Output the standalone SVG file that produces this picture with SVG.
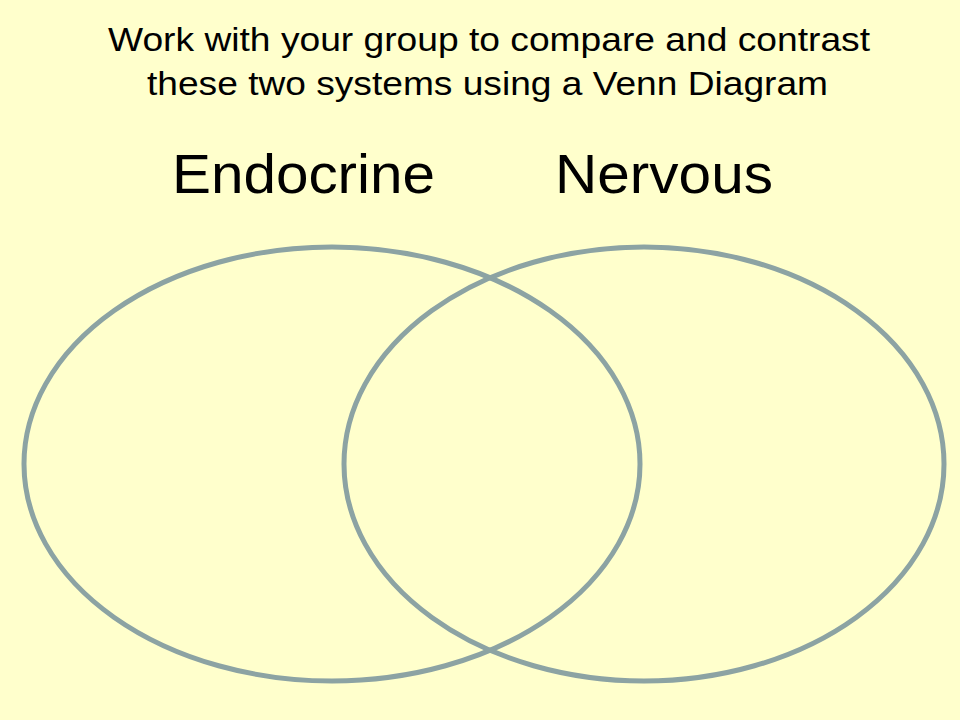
<svg xmlns="http://www.w3.org/2000/svg" width="960" height="720" viewBox="0 0 960 720">
<style>
.t{font-family:"Liberation Sans",Arial,sans-serif;fill:#000}
.c{fill:none;stroke:#8CA3A3;stroke-width:5}
</style>
<rect width="960" height="720" fill="#FFFFCC"/>
<text class="t" x="108" y="51" font-size="33" textLength="762" lengthAdjust="spacingAndGlyphs">Work with your group to compare and contrast</text>
<text class="t" x="147" y="95" font-size="33" textLength="681" lengthAdjust="spacingAndGlyphs">these two systems using a Venn Diagram</text>
<text class="t" x="172" y="193" font-size="56" textLength="263" lengthAdjust="spacingAndGlyphs">Endocrine</text>
<text class="t" x="555" y="193" font-size="56" textLength="218" lengthAdjust="spacingAndGlyphs">Nervous</text>
<g id="endocrine"><ellipse class="c" cx="332" cy="464" rx="308" ry="217"/></g>
<g id="nervous"><ellipse class="c" cx="644" cy="464" rx="300" ry="217"/></g>
<g id="connectors"/>
</svg>
